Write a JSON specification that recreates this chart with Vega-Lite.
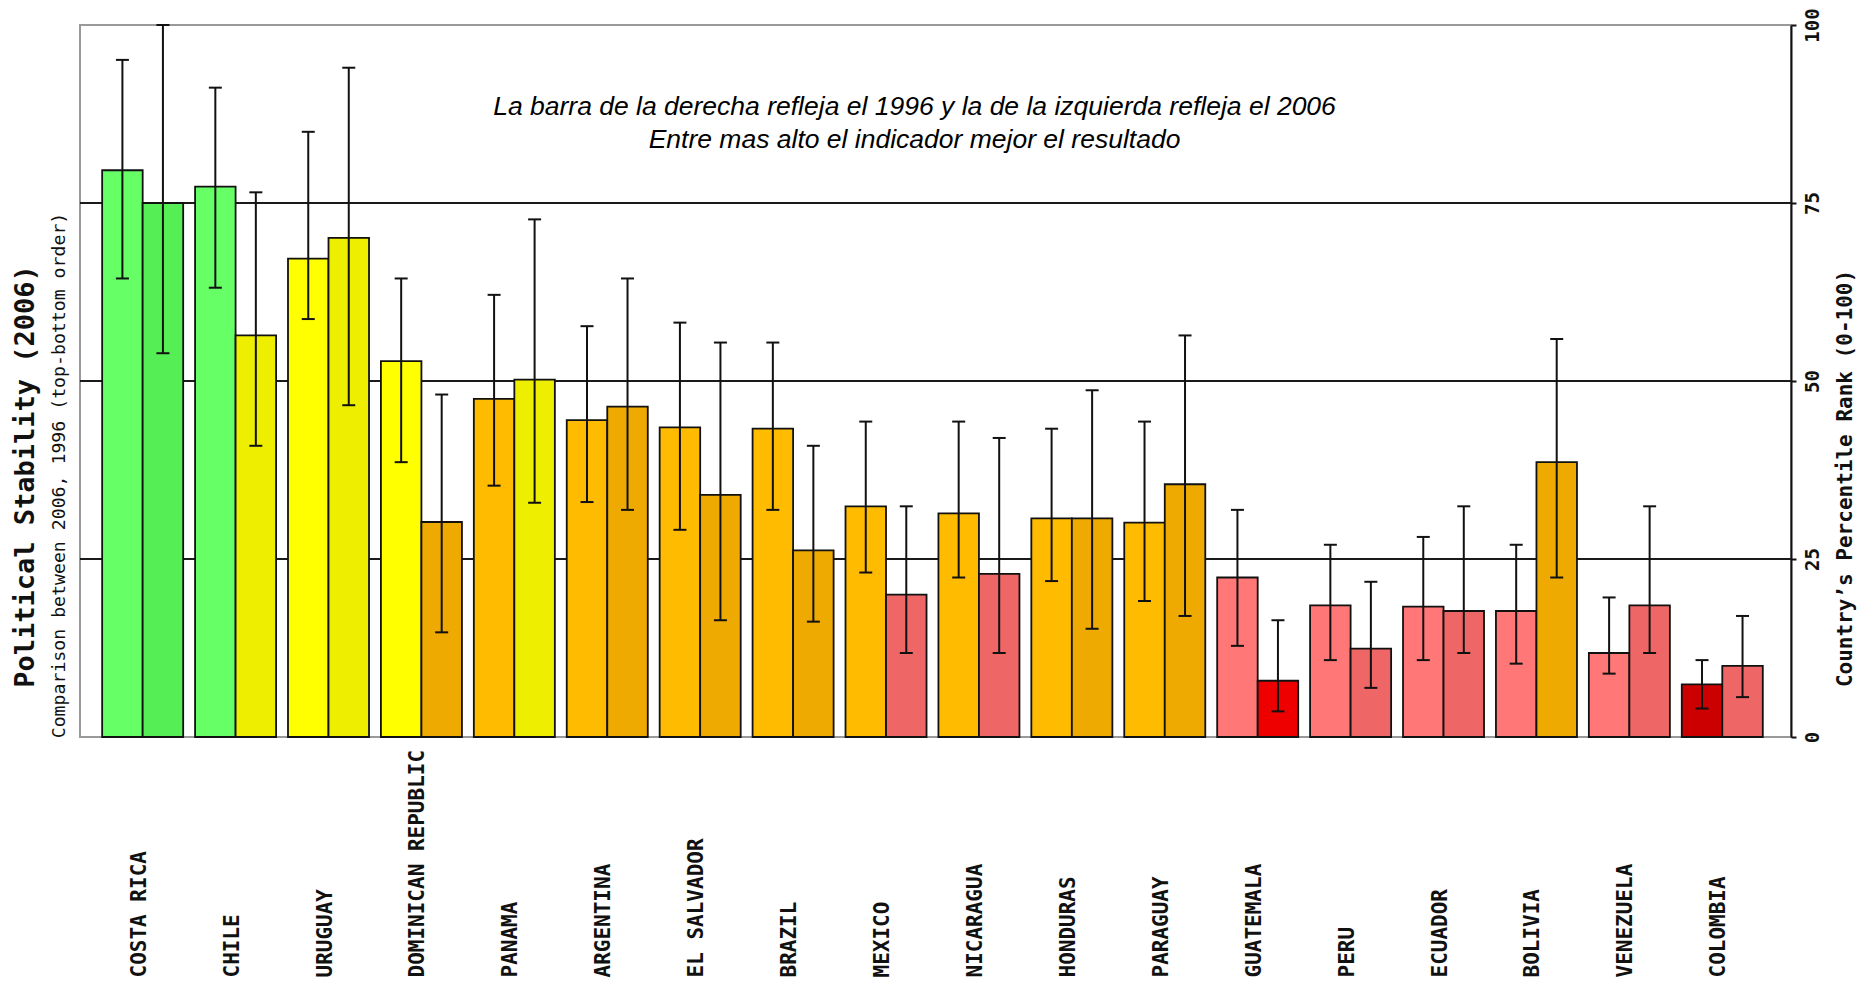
{
  "$schema": "https://vega.github.io/schema/vega-lite/v6.json",
  "autosize": "none",
  "padding": {"left": 80, "top": 25, "right": 78, "bottom": 247},
  "width": 1711,
  "height": 712,
  "background": "white",
  "config": {
    "view": {"stroke": "#999999", "strokeWidth": 2},
    "axis": {"labelColor": "#111111", "titleColor": "#111111"}
  },
  "title": {
    "text": ["La barra de la derecha refleja el 1996 y la de la izquierda refleja el 2006", "Entre mas alto el indicador mejor el resultado"],
    "orient": "top",
    "anchor": "middle",
    "frame": "group",
    "font": "Liberation Sans",
    "fontSize": 26.5,
    "fontStyle": "italic",
    "fontWeight": "normal",
    "color": "#000000",
    "lineHeight": 33,
    "offset": -146,
    "dx": -21
  },
  "data": {
    "values": [
      {"country": "COSTA RICA", "year": "2006", "value": 79.6, "lo": 64.4, "hi": 95.1, "tier": "75-100"},
      {"country": "COSTA RICA", "year": "1996", "value": 75.0, "lo": 53.9, "hi": 100.0, "tier": "75-100"},
      {"country": "CHILE", "year": "2006", "value": 77.3, "lo": 63.1, "hi": 91.2, "tier": "75-100"},
      {"country": "CHILE", "year": "1996", "value": 56.4, "lo": 40.9, "hi": 76.5, "tier": "50-75"},
      {"country": "URUGUAY", "year": "2006", "value": 67.2, "lo": 58.7, "hi": 85.0, "tier": "50-75"},
      {"country": "URUGUAY", "year": "1996", "value": 70.1, "lo": 46.6, "hi": 94.0, "tier": "50-75"},
      {"country": "DOMINICAN REPUBLIC", "year": "2006", "value": 52.8, "lo": 38.6, "hi": 64.4, "tier": "50-75"},
      {"country": "DOMINICAN REPUBLIC", "year": "1996", "value": 30.2, "lo": 14.7, "hi": 48.1, "tier": "25-50"},
      {"country": "PANAMA", "year": "2006", "value": 47.5, "lo": 35.3, "hi": 62.1, "tier": "25-50"},
      {"country": "PANAMA", "year": "1996", "value": 50.2, "lo": 32.9, "hi": 72.7, "tier": "50-75"},
      {"country": "ARGENTINA", "year": "2006", "value": 44.5, "lo": 33.0, "hi": 57.7, "tier": "25-50"},
      {"country": "ARGENTINA", "year": "1996", "value": 46.4, "lo": 31.9, "hi": 64.4, "tier": "25-50"},
      {"country": "EL SALVADOR", "year": "2006", "value": 43.5, "lo": 29.1, "hi": 58.2, "tier": "25-50"},
      {"country": "EL SALVADOR", "year": "1996", "value": 34.0, "lo": 16.4, "hi": 55.4, "tier": "25-50"},
      {"country": "BRAZIL", "year": "2006", "value": 43.3, "lo": 31.9, "hi": 55.4, "tier": "25-50"},
      {"country": "BRAZIL", "year": "1996", "value": 26.2, "lo": 16.2, "hi": 40.9, "tier": "25-50"},
      {"country": "MEXICO", "year": "2006", "value": 32.4, "lo": 23.1, "hi": 44.3, "tier": "25-50"},
      {"country": "MEXICO", "year": "1996", "value": 20.0, "lo": 11.8, "hi": 32.4, "tier": "10-25"},
      {"country": "NICARAGUA", "year": "2006", "value": 31.4, "lo": 22.4, "hi": 44.3, "tier": "25-50"},
      {"country": "NICARAGUA", "year": "1996", "value": 22.9, "lo": 11.8, "hi": 42.0, "tier": "10-25"},
      {"country": "HONDURAS", "year": "2006", "value": 30.7, "lo": 21.9, "hi": 43.3, "tier": "25-50"},
      {"country": "HONDURAS", "year": "1996", "value": 30.7, "lo": 15.2, "hi": 48.7, "tier": "25-50"},
      {"country": "PARAGUAY", "year": "2006", "value": 30.1, "lo": 19.1, "hi": 44.3, "tier": "25-50"},
      {"country": "PARAGUAY", "year": "1996", "value": 35.5, "lo": 17.0, "hi": 56.4, "tier": "25-50"},
      {"country": "GUATEMALA", "year": "2006", "value": 22.4, "lo": 12.8, "hi": 31.9, "tier": "10-25"},
      {"country": "GUATEMALA", "year": "1996", "value": 7.9, "lo": 3.6, "hi": 16.4, "tier": "0-10"},
      {"country": "PERU", "year": "2006", "value": 18.5, "lo": 10.8, "hi": 27.0, "tier": "10-25"},
      {"country": "PERU", "year": "1996", "value": 12.4, "lo": 6.9, "hi": 21.8, "tier": "10-25"},
      {"country": "ECUADOR", "year": "2006", "value": 18.3, "lo": 10.8, "hi": 28.1, "tier": "10-25"},
      {"country": "ECUADOR", "year": "1996", "value": 17.7, "lo": 11.8, "hi": 32.4, "tier": "10-25"},
      {"country": "BOLIVIA", "year": "2006", "value": 17.7, "lo": 10.3, "hi": 27.0, "tier": "10-25"},
      {"country": "BOLIVIA", "year": "1996", "value": 38.6, "lo": 22.4, "hi": 55.9, "tier": "25-50"},
      {"country": "VENEZUELA", "year": "2006", "value": 11.8, "lo": 8.9, "hi": 19.6, "tier": "10-25"},
      {"country": "VENEZUELA", "year": "1996", "value": 18.5, "lo": 11.8, "hi": 32.4, "tier": "10-25"},
      {"country": "COLOMBIA", "year": "2006", "value": 7.4, "lo": 4.0, "hi": 10.8, "tier": "0-10"},
      {"country": "COLOMBIA", "year": "1996", "value": 10.0, "lo": 5.6, "hi": 17.0, "tier": "10-25"}
    ]
  },
  "layer": [
    {
      "data": {"values": [{"g": 25}, {"g": 50}, {"g": 75}]},
      "mark": {"type": "rule", "color": "#1a1a1a", "strokeWidth": 2},
      "encoding": {
        "y": {"field": "g", "type": "quantitative", "axis": null}
      }
    },
    {
      "transform": [{"filter": "datum.year === '2006'"}],
      "mark": {"type": "bar", "stroke": "#111111", "strokeWidth": 1.8},
      "encoding": {
        "x": {
          "field": "country",
          "type": "nominal",
          "sort": null,
          "scale": {"type": "band", "paddingInner": 0.128, "paddingOuter": 0.271, "align": 0.44},
          "axis": {
            "orient": "bottom",
            "offset": 0,
            "title": null,
            "ticks": false,
            "domain": false,
            "grid": false,
            "labelAngle": 270,
            "labelAlign": "left",
            "labelBaseline": "middle",
            "labelPadding": 240,
            "labelOffset": -3,
            "labelFont": "DejaVu Sans Mono",
            "labelFontWeight": "bold",
            "labelFontSize": 21,
            "labelColor": "#111111",
            "labelLimit": 400
          }
        },
        "xOffset": {
          "field": "year",
          "type": "nominal",
          "scale": {"domain": ["2006", "1996"], "paddingInner": 0, "paddingOuter": 0}
        },
        "y": {
          "field": "value",
          "type": "quantitative",
          "scale": {"domain": [0, 100], "nice": false},
          "axis": {
            "orient": "left",
            "offset": 0,
            "grid": false,
            "labels": false,
            "ticks": false,
            "domain": false,
            "title": "Political Stability (2006)",
            "titleFont": "DejaVu Sans Mono",
            "titleFontSize": 27,
            "titleFontWeight": "bold",
            "titleColor": "#111111",
            "titleAngle": 270,
            "titleX": -55,
            "titleY": 451,
            "titleAlign": "center",
            "titleBaseline": "middle"
          }
        },
        "color": {
          "field": "tier",
          "type": "nominal",
          "legend": null,
          "scale": {
            "domain": ["0-10", "10-25", "25-50", "50-75", "75-100"],
            "range": ["#cc0000", "#ff7777", "#ffbb00", "#ffff00", "#66ff66"]
          }
        }
      }
    },
    {
      "transform": [{"filter": "datum.year === '1996'"}],
      "mark": {"type": "bar", "stroke": "#111111", "strokeWidth": 1.8},
      "encoding": {
        "x": {"field": "country", "type": "nominal", "sort": null, "axis": null},
        "xOffset": {"field": "year", "type": "nominal"},
        "y": {"field": "value", "type": "quantitative", "axis": null},
        "color": {
          "field": "tier",
          "type": "nominal",
          "legend": null,
          "scale": {
            "domain": ["0-10", "10-25", "25-50", "50-75", "75-100"],
            "range": ["#ee0000", "#ee6666", "#eeaa00", "#eeee00", "#55ee55"]
          }
        }
      }
    },
    {
      "mark": {"type": "rule", "color": "#111111", "strokeWidth": 2},
      "encoding": {
        "x": {"field": "country", "type": "nominal", "sort": null, "axis": null},
        "xOffset": {"field": "year", "type": "nominal"},
        "y": {
          "field": "lo",
          "type": "quantitative",
          "axis": {
            "orient": "right",
            "offset": 0,
            "values": [0, 25, 50, 75, 100],
            "grid": false,
            "domain": true,
            "domainColor": "#111111",
            "domainWidth": 2,
            "ticks": true,
            "tickColor": "#111111",
            "tickWidth": 2,
            "tickSize": 5,
            "labelAngle": 270,
            "labelAlign": "center",
            "labelBaseline": "top",
            "labelPadding": 7,
            "labelFont": "DejaVu Sans Mono",
            "labelFontWeight": "bold",
            "labelFontSize": 19,
            "labelColor": "#111111",
            "title": "Country’s Percentile Rank (0-100)",
            "titleFont": "DejaVu Sans Mono",
            "titleFontSize": 21,
            "titleFontWeight": "bold",
            "titleColor": "#111111",
            "titleAngle": 270,
            "titleX": 54,
            "titleY": 453,
            "titleAlign": "center",
            "titleBaseline": "middle"
          }
        },
        "y2": {"field": "hi"}
      }
    },
    {
      "mark": {"type": "tick", "color": "#111111", "size": 13, "thickness": 2, "orient": "horizontal", "opacity": 1},
      "encoding": {
        "x": {"field": "country", "type": "nominal", "sort": null, "axis": null},
        "xOffset": {"field": "year", "type": "nominal"},
        "y": {
          "field": "hi",
          "type": "quantitative",
          "axis": {
            "orient": "left",
            "offset": 0,
            "grid": false,
            "labels": false,
            "ticks": false,
            "domain": false,
            "title": "Comparison between 2006, 1996 (top-bottom order)",
            "titleFont": "DejaVu Sans Mono",
            "titleFontSize": 18.2,
            "titleFontWeight": "normal",
            "titleColor": "#111111",
            "titleAngle": 270,
            "titleX": -21,
            "titleY": 450,
            "titleAlign": "center",
            "titleBaseline": "middle"
          }
        }
      }
    },
    {
      "mark": {"type": "tick", "color": "#111111", "size": 13, "thickness": 2, "orient": "horizontal", "opacity": 1},
      "encoding": {
        "x": {"field": "country", "type": "nominal", "sort": null, "axis": null},
        "xOffset": {"field": "year", "type": "nominal"},
        "y": {"field": "lo", "type": "quantitative", "axis": null}
      }
    }
  ],
  "resolve": {
    "scale": {"color": "independent"},
    "axis": {"x": "independent", "y": "independent"}
  }
}
